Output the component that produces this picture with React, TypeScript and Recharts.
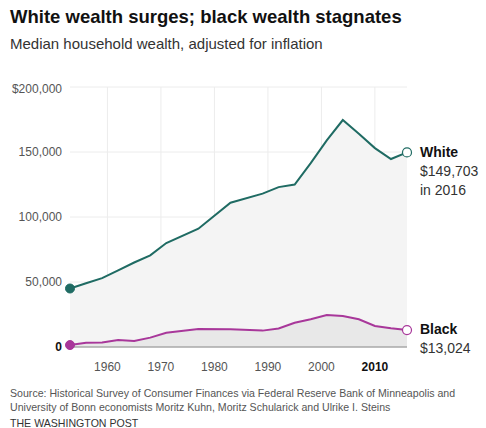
import { ComposedChart, Area, XAxis, YAxis, CartesianGrid, ReferenceLine } from 'recharts';

// Survey years and median household wealth (2016 dollars)
const years = [1953, 1956, 1959, 1962, 1965, 1968, 1971, 1977, 1983, 1989, 1992, 1995, 1998, 2001, 2004, 2007, 2010, 2013, 2016];
const whiteWealth = [45000, 49000, 53000, 59000, 65000, 70500, 80000, 91000, 111000, 118000, 123000, 125000, 141500, 159000, 174600, 164000, 153000, 144600, 149703];
const blackWealth = [1500, 3300, 3400, 5400, 4700, 7200, 11000, 13800, 13600, 12600, 14300, 18700, 21300, 24600, 23800, 21300, 16200, 14400, 13024];

const xTicks = [1960, 1970, 1980, 1990, 2000, 2010];
const yTicks = [0, 50000, 100000, 150000, 200000];

const WHITE_COLOR = '#1f6b63';
const BLACK_COLOR = '#a8379a';
const FONT = '"Liberation Sans", Arial, sans-serif';

const data = years.map((year, i) => ({ year, white: whiteWealth[i], black: blackWealth[i] }));

const makeDot = (color: string) => (props: any) => {
  const { cx, cy, index } = props;
  if (index === 0) {
    return <circle key={`d-${index}`} cx={cx} cy={cy} r={4.5} fill={color} stroke={color} />;
  }
  if (index === data.length - 1) {
    return <circle key={`d-${index}`} cx={cx} cy={cy} r={4.5} fill="#fff" stroke={color} strokeWidth={1.2} />;
  }
  return <g key={`d-${index}`} />;
};

const YTick = (props: any) => {
  const { x, y, payload } = props;
  const v = payload.value;
  let label = v.toLocaleString('en-US');
  if (v === 200000) label = '$' + label;
  return (
    <text x={x} y={y} dy={v === 200000 ? 6 : 4} textAnchor="end" fontSize={12} fill={v === 0 ? '#111' : '#555'} fontWeight={v === 0 ? 700 : 400} fontFamily={FONT}>
      {label}
    </text>
  );
};

const XTick = (props: any) => {
  const { x, y, payload } = props;
  const v = payload.value;
  return (
    <text x={x} y={y} dy={16} textAnchor="middle" fontSize={12} fill={v === 2010 ? '#111' : '#555'} fontWeight={v === 2010 ? 700 : 400} fontFamily={FONT}>
      {v}
    </text>
  );
};

export default function App() {
  return (
    <div style={{ position: 'absolute', left: 0, top: 0, width: 486, height: 428, background: '#fff', fontFamily: FONT, overflow: 'hidden' }}>
      <div style={{ position: 'absolute', left: 10, top: 6, fontSize: 18.5, fontWeight: 700, color: '#111' }}>
        White wealth surges; black wealth stagnates
      </div>
      <div style={{ position: 'absolute', left: 10, top: 35, fontSize: 15, color: '#333' }}>
        Median household wealth, adjusted for inflation
      </div>

      <div style={{ position: 'absolute', left: 0, top: 0 }}>
        <ComposedChart width={486} height={428} data={data} margin={{ top: 87, right: 79, bottom: 51, left: 10 }}>
          <CartesianGrid stroke="#ececec" verticalValues={xTicks} horizontalValues={yTicks} />
          <XAxis
            dataKey="year"
            type="number"
            domain={[1953, 2016]}
            ticks={xTicks}
            tick={<XTick />}
            axisLine={false}
            tickLine={false}
            height={30}
          />
          <YAxis
            type="number"
            domain={[0, 200000]}
            ticks={yTicks}
            tick={<YTick />}
            axisLine={false}
            tickLine={false}
            width={60}
          />
          <Area
            type="linear"
            dataKey="white"
            stroke={WHITE_COLOR}
            strokeWidth={2}
            fill="#f4f4f4"
            fillOpacity={1}
            dot={makeDot(WHITE_COLOR)}
            activeDot={false}
            isAnimationActive={false}
          />
          <Area
            type="linear"
            dataKey="black"
            stroke={BLACK_COLOR}
            strokeWidth={2}
            fill="#e8e8e8"
            fillOpacity={1}
            dot={makeDot(BLACK_COLOR)}
            activeDot={false}
            isAnimationActive={false}
          />
          <ReferenceLine y={0} stroke="#888" strokeWidth={1} />
        </ComposedChart>
      </div>

      <div style={{ position: 'absolute', left: 420, top: 143, fontSize: 14, lineHeight: '19px', color: '#111' }}>
        <div style={{ fontWeight: 700 }}>White</div>
        <div style={{ color: '#333' }}>$149,703</div>
        <div style={{ color: '#333' }}>in 2016</div>
      </div>
      <div style={{ position: 'absolute', left: 420, top: 320, fontSize: 14, lineHeight: '19px', color: '#111' }}>
        <div style={{ fontWeight: 700 }}>Black</div>
        <div style={{ color: '#333' }}>$13,024</div>
      </div>

      <div style={{ position: 'absolute', left: 10, top: 386, fontSize: 10.6, lineHeight: '14px', color: '#555' }}>
        <div>Source: Historical Survey of Consumer Finances via Federal Reserve Bank of Minneapolis and</div>
        <div>University of Bonn economists Moritz Kuhn, Moritz Schularick and Ulrike I. Steins</div>
        <div style={{ marginTop: 2, color: '#333' }}>THE WASHINGTON POST</div>
      </div>
    </div>
  );
}
